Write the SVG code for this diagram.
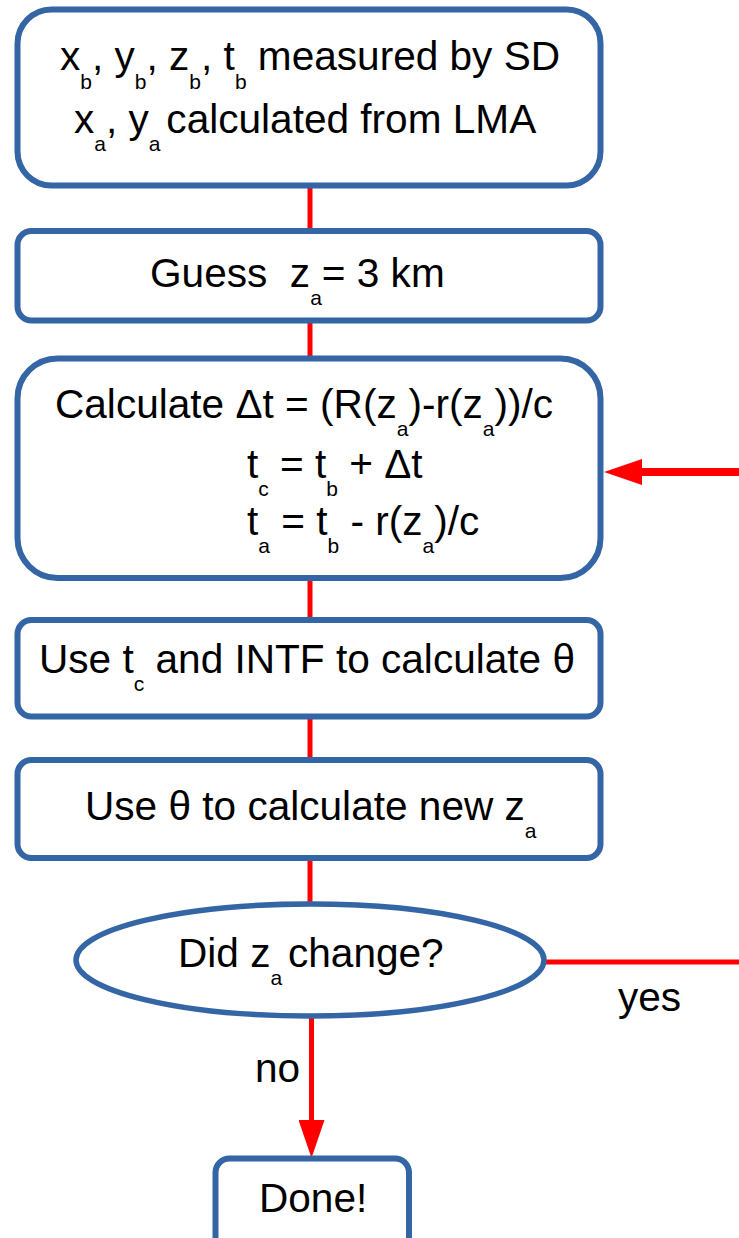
<svg xmlns="http://www.w3.org/2000/svg" width="739" height="1238" viewBox="0 0 739 1238">
<style>
.node{fill:#ffffff;stroke:#3465a4;stroke-width:6}
.t{font-family:"Liberation Sans",Arial,sans-serif;font-size:40.6px;fill:#000000}
.s{font-size:21px}
.conn{stroke:#ff0000;stroke-width:5;fill:none}
.thick{stroke-width:8}
</style>
<defs>
<marker id="arrow" viewBox="0 -13 38 26" markerWidth="38" markerHeight="26" refX="1" refY="0" orient="auto" markerUnits="userSpaceOnUse">
<path d="M0,-13 L38,0 L0,13 z" fill="#ff0000"/>
</marker>
</defs>
<rect width="739" height="1238" fill="#ffffff"/>
<g id="connectors">
<line class="conn" x1="310" y1="185" x2="310" y2="231"/>
<line class="conn" x1="310" y1="320" x2="310" y2="359"/>
<line class="conn" x1="310" y1="578" x2="310" y2="620"/>
<line class="conn" x1="310" y1="716" x2="310" y2="760"/>
<line class="conn" x1="310" y1="858" x2="310" y2="904"/>
<line class="conn" x1="545" y1="962" x2="739" y2="962"/>
<line class="conn thick" x1="739" y1="472" x2="641" y2="472" marker-end="url(#arrow)"/>
<line class="conn" x1="311.5" y1="1016" x2="311.5" y2="1121" marker-end="url(#arrow)"/>
<text class="t" x="618" y="1011">yes</text>
<text class="t" x="255" y="1082">no</text>
</g>
<g id="n1">
<rect class="node" x="17.5" y="9.5" width="583" height="176" rx="34" ry="34"/>
<text class="t" x="60" y="70">x<tspan class="s" dy="19">b</tspan><tspan dy="-19">, y</tspan><tspan class="s" dy="19">b</tspan><tspan dy="-19">, z</tspan><tspan class="s" dy="19">b</tspan><tspan dy="-19">, t</tspan><tspan class="s" dy="19">b</tspan><tspan dy="-19"> measured by SD</tspan></text>
<text class="t" x="74" y="133">x<tspan class="s" dy="18">a</tspan><tspan dy="-18">, y</tspan><tspan class="s" dy="18">a </tspan><tspan dy="-18">calculated from LMA</tspan></text>
</g>
<g id="n2">
<rect class="node" x="17.5" y="231" width="583" height="89.5" rx="14" ry="14"/>
<text class="t" x="150" y="287">Guess &#160;z<tspan class="s" dy="18">a</tspan><tspan dy="-18">= 3 km</tspan></text>
</g>
<g id="n3">
<rect class="node" x="17.5" y="358.5" width="583" height="219.5" rx="40" ry="40"/>
<text class="t" x="55" y="418">Calculate Δt = (R(z<tspan class="s" dy="18">a</tspan><tspan dy="-18">)-r(z</tspan><tspan class="s" dy="18">a</tspan><tspan dy="-18">))/c</tspan></text>
<text class="t" x="247" y="478">t<tspan class="s" dy="18">c</tspan><tspan dy="-18"> = t</tspan><tspan class="s" dy="18">b</tspan><tspan dy="-18"> + Δt</tspan></text>
<text class="t" x="247" y="535">t<tspan class="s" dy="18">a</tspan><tspan dy="-18"> = t</tspan><tspan class="s" dy="18">b</tspan><tspan dy="-18"> - r(z</tspan><tspan class="s" dy="18">a</tspan><tspan dy="-18">)/c</tspan></text>
</g>
<g id="n4">
<rect class="node" x="17.5" y="620" width="583" height="96.5" rx="14" ry="14"/>
<text class="t" x="39" y="673">Use t<tspan class="s" dy="18">c</tspan><tspan dy="-18"> and INTF to calculate θ</tspan></text>
</g>
<g id="n5">
<rect class="node" x="17.5" y="760" width="583" height="98" rx="14" ry="14"/>
<text class="t" x="85" y="820">Use θ to calculate new z<tspan class="s" dy="18">a</tspan></text>
</g>
<g id="n6">
<ellipse class="node" cx="310" cy="960" rx="234" ry="56" style="stroke-width:5.5"/>
<text class="t" x="178" y="967">Did z<tspan class="s" dy="18">a </tspan><tspan dy="-18">change?</tspan></text>
</g>
<g id="n7">
<rect class="node" x="215.5" y="1158.5" width="193.5" height="100" rx="14" ry="14"/>
<text class="t" x="259" y="1212">Done!</text>
</g>
</svg>
